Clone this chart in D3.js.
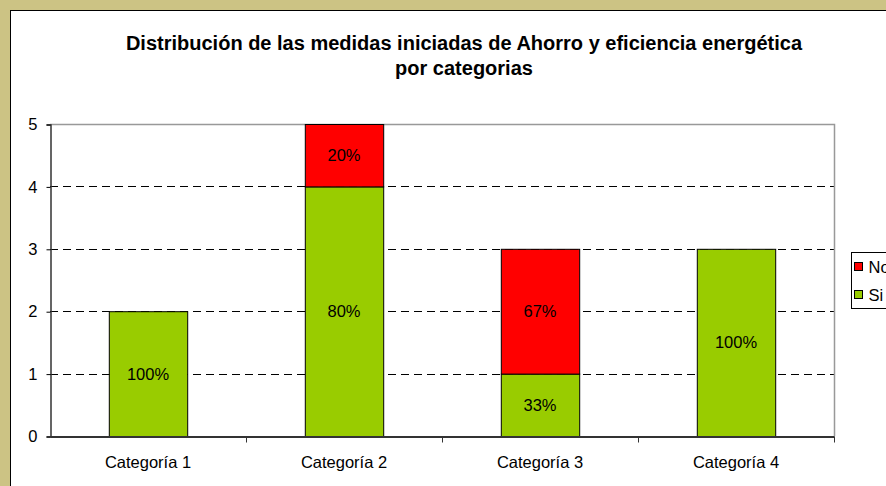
<!DOCTYPE html>
<html>
<head>
<meta charset="utf-8">
<script src="https://cdn.jsdelivr.net/npm/d3@7"></script>
<style>
  body { margin: 0; background: #CCC384; }
  svg { display: block; }
  text { font-family: "Liberation Sans", Arial, sans-serif; }
</style>
</head>
<body>
<svg id="canvas"></svg>
<script>
// chart data
const categories = ['Categoría 1', 'Categoría 2', 'Categoría 3', 'Categoría 4']
const siValues = [2, 4, 1, 3]
const noValues = [0, 1, 2, 0]
const siLabels = ['100%', '80%', '33%', '100%']
const noLabels = ['', '20%', '67%', '']
const yTicks = [0, 1, 2, 3, 4, 5]
const seriesNames = ['No', 'Si']

const width = 886
const height = 486
const plot = { left: 50, top: 124, right: 834, bottom: 436 }
const green = '#99CC00'
const red = '#FF0000'
const labelSize = '16.5px'

let canvas = d3.select('#canvas')
    .attr('width', width)
    .attr('height', height)

// white chart sheet with a thin black edge
canvas.append('rect')
    .attr('x', 10.5).attr('y', 10.5)
    .attr('width', width).attr('height', height)
    .attr('fill', 'white')
    .attr('stroke', 'black')

// title
let title = canvas.append('text')
    .attr('text-anchor', 'middle')
    .attr('font-weight', 'bold')
    .attr('font-size', '20px')
title.append('tspan').attr('x', 464).attr('y', 50)
    .text('Distribución de las medidas iniciadas de Ahorro y eficiencia energética')
title.append('tspan').attr('x', 464).attr('y', 75)
    .text('por categorias')

let xScale = d3.scaleBand()
    .domain(categories)
    .range([plot.left, plot.right])
    .paddingInner(0.6)
    .paddingOuter(0.3)

let yScale = d3.scaleLinear()
    .domain([0, 5])
    .range([plot.bottom, plot.top])

// gridlines
canvas.append('g')
    .selectAll('line')
    .data(yTicks.filter(d => d > 0 && d < 5))
    .enter()
    .append('line')
    .attr('x1', plot.left).attr('x2', plot.right)
    .attr('y1', d => Math.round(yScale(d)) + 0.5)
    .attr('y2', d => Math.round(yScale(d)) + 0.5)
    .attr('stroke', 'black')
    .attr('stroke-dasharray', '8,5')

// plot frame top/right
canvas.append('path')
    .attr('d', `M${plot.left},${plot.top + 0.5}H${plot.right + 0.5}V${plot.bottom}`)
    .attr('fill', 'none')
    .attr('stroke', '#999')
    .attr('stroke-width', 1.5)

// stacked bars
let stackData = categories.map((c, i) => ({ cat: c, si: siValues[i], no: noValues[i], siL: siLabels[i], noL: noLabels[i] }))

let bars = canvas.append('g')
bars.selectAll('rect.si')
    .data(stackData)
    .enter()
    .append('rect')
    .attr('class', 'si')
    .attr('x', d => xScale(d.cat) + 0.5)
    .attr('y', d => yScale(d.si) + 0.5)
    .attr('width', xScale.bandwidth())
    .attr('height', d => yScale(0) - yScale(d.si))
    .attr('fill', green)
    .attr('stroke', 'black')

bars.selectAll('rect.no')
    .data(stackData.filter(d => d.no > 0))
    .enter()
    .append('rect')
    .attr('class', 'no')
    .attr('x', d => xScale(d.cat) + 0.5)
    .attr('y', d => yScale(d.si + d.no) + 0.5)
    .attr('width', xScale.bandwidth())
    .attr('height', d => yScale(d.si) - yScale(d.si + d.no))
    .attr('fill', red)
    .attr('stroke', 'black')

// percentage labels
bars.selectAll('text.si')
    .data(stackData)
    .enter()
    .append('text')
    .attr('x', d => xScale(d.cat) + xScale.bandwidth() / 2)
    .attr('y', d => yScale(d.si / 2) + 6)
    .attr('text-anchor', 'middle')
    .attr('font-size', labelSize)
    .text(d => d.siL)

bars.selectAll('text.no')
    .data(stackData.filter(d => d.no > 0))
    .enter()
    .append('text')
    .attr('x', d => xScale(d.cat) + xScale.bandwidth() / 2)
    .attr('y', d => yScale(d.si + d.no / 2) + 6)
    .attr('text-anchor', 'middle')
    .attr('font-size', labelSize)
    .text(d => d.noL)

// axes
let yAxis = d3.axisLeft(yScale).tickValues(yTicks).tickFormat(d3.format('d')).tickSize(4).tickPadding(9)
let gy = canvas.append('g')
    .attr('transform', `translate(${plot.left + 0.5}, 0.5)`)
    .call(yAxis)
gy.select('.domain').attr('stroke', '#333').attr('stroke-width', 1.5)
gy.selectAll('text').attr('font-size', labelSize).attr('fill', 'black')
    .style('font-family', '"Liberation Sans", Arial, sans-serif')

let xAxis = d3.axisBottom(xScale).tickSize(0).tickPadding(20)
let gx = canvas.append('g')
    .attr('transform', `translate(0, ${plot.bottom + 0.5})`)
    .call(xAxis)
gx.select('.domain').attr('stroke', '#333').attr('stroke-width', 2)
gx.selectAll('text').attr('font-size', labelSize).attr('fill', 'black')
    .style('font-family', '"Liberation Sans", Arial, sans-serif')

// category separator ticks
gx.append('g')
    .selectAll('line')
    .data(categories)
    .enter()
    .append('line')
    .attr('x1', d => Math.round(xScale(d) + xScale.bandwidth() / 2 + xScale.step() / 2) + 0.5)
    .attr('x2', d => Math.round(xScale(d) + xScale.bandwidth() / 2 + xScale.step() / 2) + 0.5)
    .attr('y1', 0).attr('y2', 6)
    .attr('stroke', '#333')

// legend
let legend = canvas.append('g').attr('transform', 'translate(851.5, 252.5)')
legend.append('rect')
    .attr('width', 60).attr('height', 56)
    .attr('fill', 'white').attr('stroke', 'black')
let items = legend.selectAll('g.item')
    .data(seriesNames)
    .enter()
    .append('g')
    .attr('transform', (d, i) => `translate(3, ${14 + i * 28})`)
items.append('rect')
    .attr('y', -4)
    .attr('width', 8).attr('height', 8)
    .attr('fill', d => d === 'No' ? red : green)
    .attr('stroke', 'black')
items.append('text')
    .attr('x', 14).attr('y', 6)
    .attr('font-size', labelSize)
    .text(d => d)
</script>
</body>
</html>
